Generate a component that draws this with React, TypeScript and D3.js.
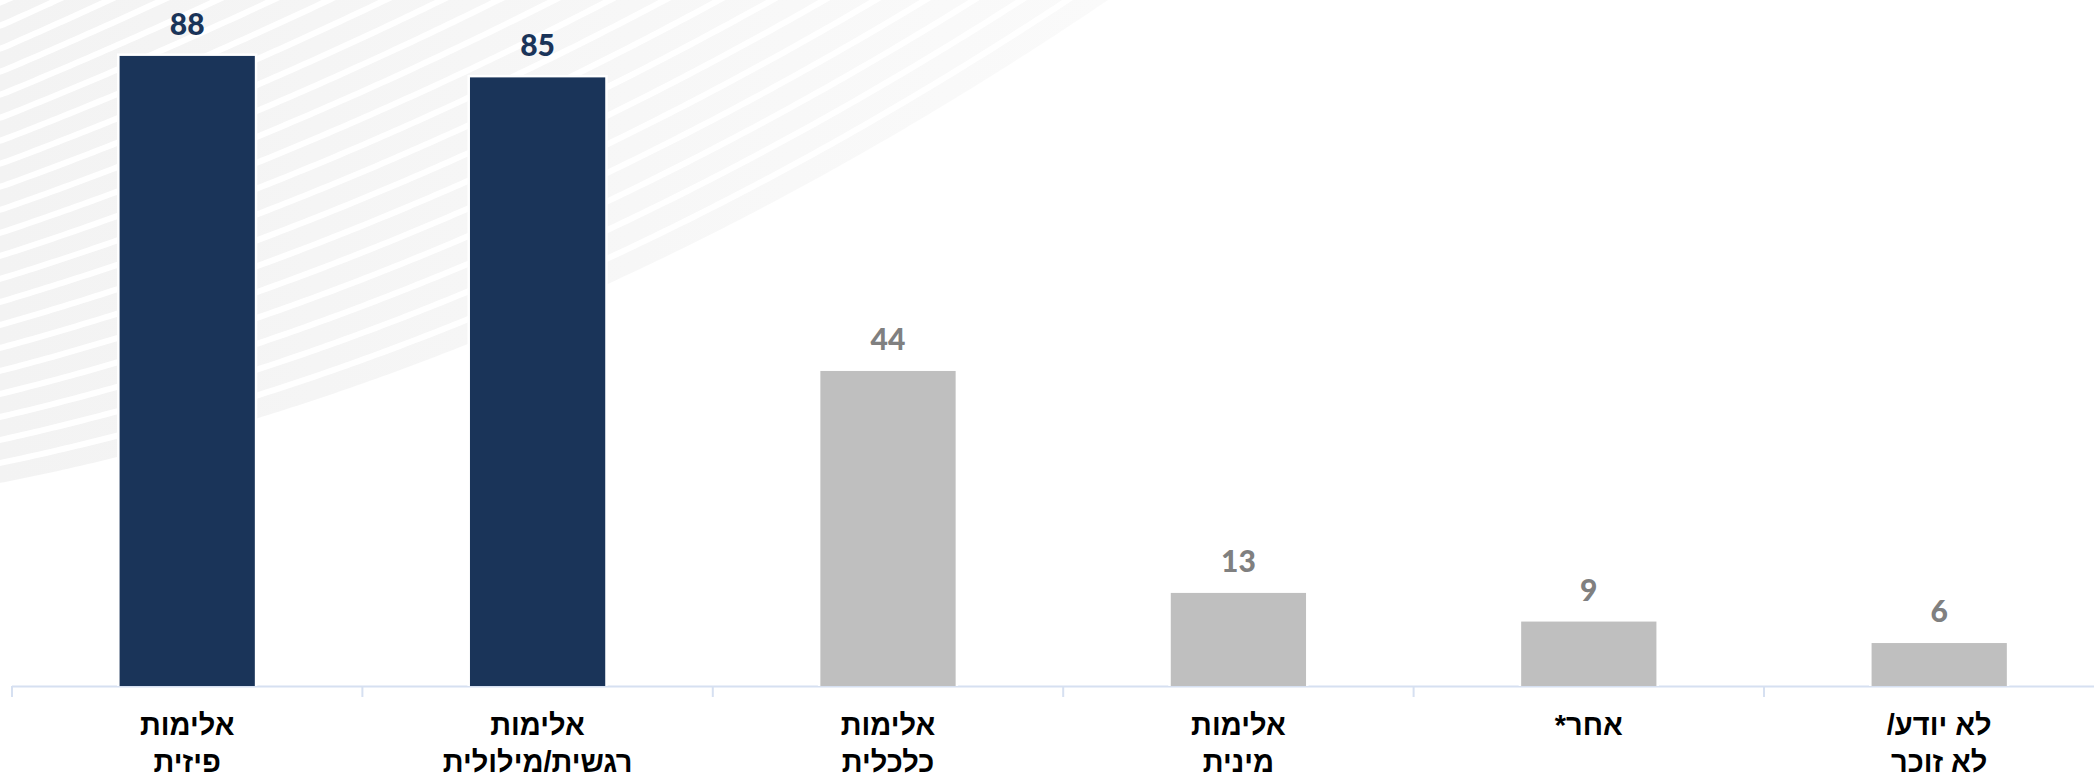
import React from "react";
import * as d3 from "d3";

const categories = ["physical", "emotional", "economic", "sexual", "other", "dontknow"];
const labelLines: string[][] = [
  ["אלימות", "פיזית"],
  ["אלימות", "רגשית/מילולית"],
  ["אלימות", "כלכלית"],
  ["אלימות", "מינית"],
  ["אחר*"],
  ["לא יודע/", "לא זוכר"],
];
const values = [88, 85, 44, 13, 9, 6];
const highlighted = [true, true, false, false, false, false];

const W = 2094;
const H = 778;

export default function App() {
  const x = d3
    .scaleBand<string>()
    .domain(categories)
    .range([12, 12 + 6 * 350.4])
    .paddingInner(0.614)
    .paddingOuter(0.307);
  const step = x.step();
  const y = d3.scaleLinear().domain([0, 100]).range([686, -30]);

  // decorative background
  const B = (px: number) => 483 - 0.1959 * px - 0.0002166 * px * px;
  const g = (px: number) => 23 + 7 * (1 - Math.pow(1 - Math.min(px, 1108) / 1108, 2));
  const xs = d3.range(-20, 1131, 6);
  const regionPts: [number, number][] = [
    [-20, -20],
    ...xs.filter((v) => v <= 1108).map((v) => [v, B(Math.max(v, 0))] as [number, number]),
    [1108, 0],
    [1108, -20],
  ];
  const region = d3.line().curve(d3.curveLinear)(regionPts) + "Z";
  const stripes = d3.range(1, 32).map((k) => {
    const pts: [number, number][] = xs.map((v) => [v, B(v) - (k * g(Math.max(v, 0)) - 3)]);
    return d3.line().curve(d3.curveBasis)(pts) as string;
  });

  const tickXs = d3.range(0, 7).map((i) => 12 + i * step);

  return (
    <svg
      width={W}
      height={H}
      style={{ position: "absolute", left: 0, top: 0, display: "block", background: "#fff" }}
    >
      <defs>
        <linearGradient id="bgGrad" x1="0" y1="0" x2="1108" y2="0" gradientUnits="userSpaceOnUse">
          <stop offset="0" stopColor="#f3f3f3" />
          <stop offset="1" stopColor="#fafafa" />
        </linearGradient>
        <clipPath id="bgClip">
          <path d={region} />
        </clipPath>
      </defs>
      <path d={region} fill="url(#bgGrad)" />
      <g clipPath="url(#bgClip)">
        {stripes.map((d, i) => (
          <path key={i} d={d} fill="none" stroke="#ffffff" strokeWidth={6} />
        ))}
      </g>

      {/* axis */}
      <line x1={12} x2={W} y1={686.5} y2={686.5} stroke="#d6e0f1" strokeWidth={2} />
      {tickXs.map((tx, i) => (
        <line key={i} x1={tx} x2={tx} y1={686} y2={697} stroke="#d6e0f1" strokeWidth={2} />
      ))}

      {/* bars */}
      {categories.map((c, i) => {
        const bx = x(c) as number;
        const bw = x.bandwidth();
        const top = y(values[i]);
        const base = y(0);
        return (
          <g key={c}>
            <rect x={bx - 2.5} y={top - 2.5} width={bw + 5} height={base - top + 2.5} fill="#ffffff" />
            <rect x={bx} y={top} width={bw} height={base - top} fill={highlighted[i] ? "#1a3459" : "#bfbfbf"} />
            <text
              x={bx + bw / 2}
              y={top - 21}
              textAnchor="middle"
              fontFamily="Lato, 'Open Sans', sans-serif"
              fontWeight={900}
              fontSize={30}
              fill={highlighted[i] ? "#1a3459" : "#808080"}
            >
              {values[i]}
            </text>
          </g>
        );
      })}

      {/* category labels */}
      {categories.map((c, i) => {
        const cx = (x(c) as number) + x.bandwidth() / 2;
        return (
          <text
            key={c}
            x={cx}
            y={735}
            textAnchor="middle"
            direction="rtl"
            fontFamily="'Liberation Sans', Arial, 'DejaVu Sans', sans-serif"
            fontWeight={700}
            fontSize={29}
            fill="#000"
          >
            {labelLines[i].map((ln, j) => (
              <tspan key={j} x={cx} y={735 + j * 37}>
                {ln}
              </tspan>
            ))}
          </text>
        );
      })}
    </svg>
  );
}
